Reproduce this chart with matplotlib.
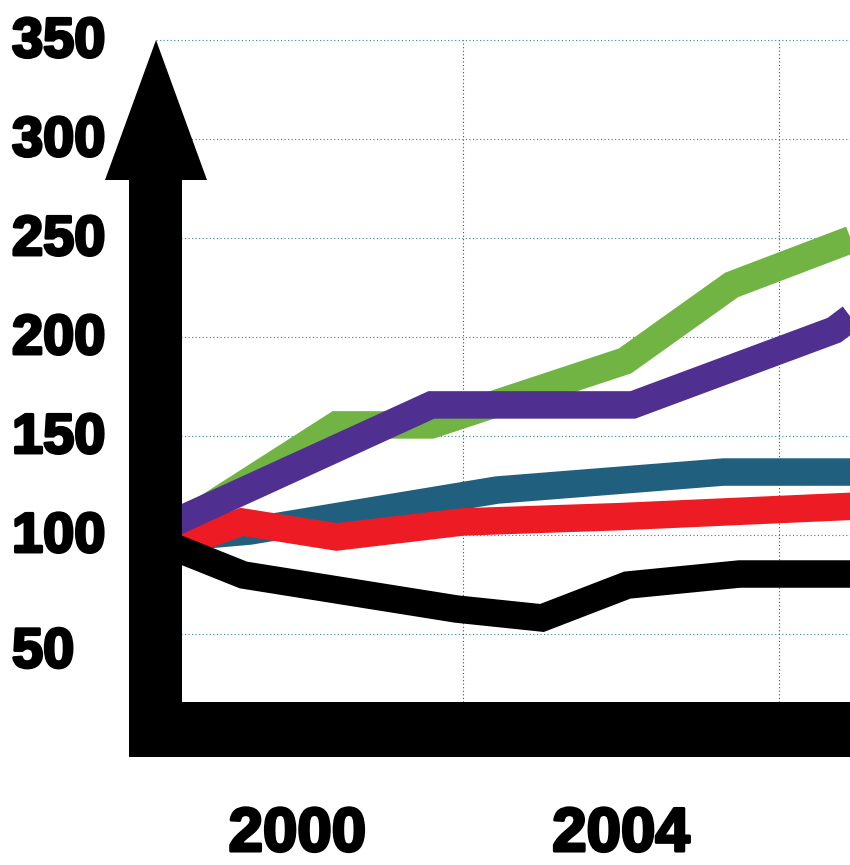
import matplotlib
matplotlib.use("Agg")
import matplotlib.pyplot as plt
from matplotlib.patches import Polygon
import matplotlib.patheffects as pe

# ---------------- data ----------------
y_tick_values = [350, 300, 250, 200, 150, 100, 50]
y_tick_labels = ["350", "300", "250", "200", "150", "100", "50"]
x_tick_values = [2000, 2004]
x_tick_labels = ["2000", "2004"]
x_grid_values = [2002, 2006]

green_x = [1998.3, 2000.4, 2001.6, 2004.05, 2005.4, 2007.2]
green_y = [102.0, 155.6, 155.6, 187.9, 226.3, 253.6]

purple_x = [1998.3, 2001.6, 2004.15, 2006.7, 2007.2]
purple_y = [105.5, 165.7, 165.7, 203.5, 218.5]

teal_x = [1998.3, 1999.3, 2002.43, 2005.3, 2007.2]
teal_y = [98.5, 102.0, 122.7, 131.8, 131.8]

red_x = [1998.3, 1999.2, 2000.4, 2002.0, 2004.0, 2007.2]
red_y = [93.4, 106.6, 99.0, 106.6, 109.3, 115.0]

black_x = [1998.3, 1999.22, 2001.92, 2003.0, 2004.08, 2005.5, 2007.2]
black_y = [94.5, 79.8, 62.6, 58.1, 74.7, 80.3, 80.3]

# ---------------- layout ----------------
W, H, DPI = 850, 865, 100
PX_PER_YEAR = 79.0
PX_PER_UNIT = 1.98
X_REF_YEAR, X_REF_PX = 2002, 463
ZERO_PX_FROM_TOP = 733

x0 = X_REF_YEAR - X_REF_PX / PX_PER_YEAR
x1 = x0 + W / PX_PER_YEAR
y_top = ZERO_PX_FROM_TOP / PX_PER_UNIT
y_bot = (ZERO_PX_FROM_TOP - H) / PX_PER_UNIT

fig = plt.figure(figsize=(W / DPI, H / DPI), dpi=DPI)
fig.patch.set_facecolor("white")
ax = fig.add_axes([0, 0, 1, 1])
ax.set_xlim(x0, x1)
ax.set_ylim(y_bot, y_top)
ax.axis("off")

def xpx(p):  # pixel column -> year coordinate (for decoration geometry)
    return x0 + p / PX_PER_YEAR

def ypx(p):  # pixel row from top -> value coordinate
    return (ZERO_PX_FROM_TOP - p) / PX_PER_UNIT

# grid
tip_x = xpx(156)
ax.hlines(y_tick_values, tip_x, x1, colors="#2f86a0", linewidth=0.8,
          linestyles=(0, (1, 2.2)), zorder=1)
ax.vlines(x_grid_values, ypx(702), 350, colors="#4a4a4a", linewidth=0.8,
          linestyles=(0, (1, 2.2)), zorder=1)

# series
LW = 27.5 * 72 / DPI
series = [
    (green_x, green_y, "#72b443", 3),
    (teal_x, teal_y, "#20607e", 4),
    (red_x, red_y, "#ed1c24", 5),
    (purple_x, purple_y, "#4f2f8f", 6),
    (black_x, black_y, "#000000", 7),
]
for xs, ys, c, z in series:
    ax.plot(xs, ys, color=c, linewidth=LW, solid_joinstyle="miter",
            solid_capstyle="butt", zorder=z)

# axis arrow + base bar
shaft = Polygon([(xpx(129), ypx(757)), (xpx(182.5), ypx(757)),
                 (xpx(182.5), ypx(178)), (xpx(129), ypx(178))],
                closed=True, facecolor="black", edgecolor="none", zorder=10)
head = Polygon([(xpx(105), ypx(180)), (xpx(207), ypx(180)), (xpx(156), ypx(40))],
               closed=True, facecolor="black", edgecolor="none", zorder=10)
bar = Polygon([(xpx(129), ypx(757)), (xpx(860), ypx(757)),
               (xpx(860), ypx(702)), (xpx(129), ypx(702))],
              closed=True, facecolor="black", edgecolor="none", zorder=10)
for p in (shaft, head, bar):
    ax.add_patch(p)

# labels
FONT = ["Liberation Sans", "DejaVu Sans"]
stroke = [pe.withStroke(linewidth=2.2, foreground="black")]
ylab_nudge = {50: -24.0}
for v, lab in zip(y_tick_values, y_tick_labels):
    ax.annotate(lab, xy=(12 / W, v), xycoords=("axes fraction", "data"),
                xytext=(0, ylab_nudge.get(v, -12.2)), textcoords="offset points",
                ha="left", va="baseline", fontsize=40.3, fontweight="bold",
                family=FONT, color="black", path_effects=stroke, zorder=20)

xlab_nudge = {2000: -5.5}
for v, lab in zip(x_tick_values, x_tick_labels):
    ax.annotate(lab, xy=(v, 14), xycoords=("data", "figure pixels"),
                xytext=(xlab_nudge.get(v, 0), 0), textcoords="offset points",
                ha="center", va="baseline", fontsize=44.5, fontweight="bold",
                family=FONT, color="black", path_effects=stroke, zorder=20)

fig.savefig("out.png", dpi=DPI, facecolor="white")
